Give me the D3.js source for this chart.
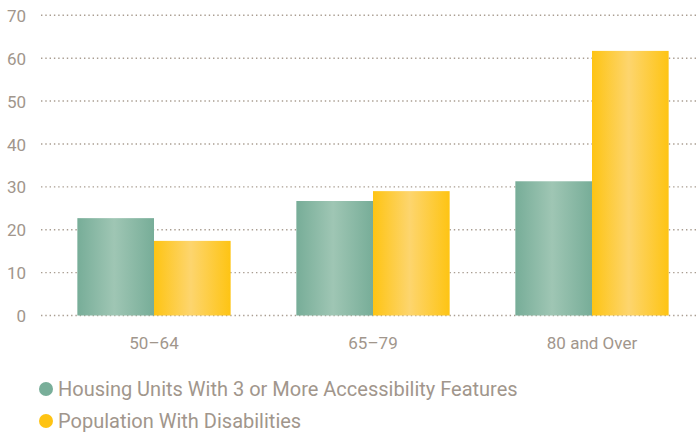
<!DOCTYPE html>
<html><head><meta charset="utf-8">
<script src="https://cdn.jsdelivr.net/npm/d3@7"></script>
<style>body{margin:0;background:#fff}svg{display:block}</style>
</head><body>
<svg id="c" width="697" height="433"></svg>
<script>
const categories = ["50–64", "65–79", "80 and Over"];
const seriesNames = ["Housing Units With 3 or More Accessibility Features", "Population With Disabilities"];
const housing = [22.7, 26.7, 31.3];
const disabilities = [17.4, 29.0, 61.7];
const yTicks = [0, 10, 20, 30, 40, 50, 60, 70];

const svg = d3.select("#c");
const textColor = "#a1968c";
const font = "Roboto, 'DejaVu Sans', sans-serif";

const y = d3.scaleLinear().domain([0, 70]).range([315.5, 15.3]);
const x0 = d3.scaleBand().domain(categories).range([44.5, 701.5]).paddingInner(0.3).paddingOuter(0.15);
const x1 = d3.scaleBand().domain([0, 1]).range([0, x0.bandwidth()]);

const defs = svg.append("defs");
function grad(id, edge, mid) {
  const g = defs.append("linearGradient").attr("id", id).attr("x1", "0%").attr("x2", "100%").attr("y1", "0%").attr("y2", "0%");
  g.append("stop").attr("offset", "0%").attr("stop-color", edge);
  g.append("stop").attr("offset", "48%").attr("stop-color", mid);
  g.append("stop").attr("offset", "100%").attr("stop-color", edge);
}
grad("gGreen", "#77ad98", "#9fc6b4");
grad("gYellow", "#fec413", "#fdd56e");

// grid
const yAxis = d3.axisLeft(y).tickValues(yTicks).tickSize(0).tickPadding(0);
const ga = svg.append("g").attr("transform", "translate(26,0)").call(yAxis);
ga.select(".domain").remove();
ga.selectAll("text").attr("fill", textColor).style("font-family", font).style("font-size", "17px").attr("dy", "0.36em");

svg.append("g").selectAll("line").data(yTicks).join("line")
  .attr("x1", 41).attr("x2", 697)
  .attr("y1", d => y(d)).attr("y2", d => y(d))
  .attr("stroke", "#a99d91").attr("stroke-width", 1.4).attr("stroke-dasharray", "1.4 2.9");

const series = [housing, disabilities];
const fills = ["url(#gGreen)", "url(#gYellow)"];
const groups = svg.append("g").selectAll("g").data(categories).join("g")
  .attr("transform", d => `translate(${x0(d)},0)`);
groups.selectAll("rect").data((d, i) => series.map((s, k) => ({k, v: s[i]}))).join("rect")
  .attr("x", d => x1(d.k)).attr("width", x1.bandwidth())
  .attr("y", d => y(d.v)).attr("height", d => y(0) - y(d.v))
  .attr("fill", d => fills[d.k]);

// x labels
const xAxis = d3.axisBottom(x0).tickSize(0).tickPadding(0);
const xa = svg.append("g").attr("transform", "translate(0,349)").call(xAxis);
xa.select(".domain").remove();
xa.selectAll("text").attr("fill", textColor).style("font-family", font).style("font-size", "17px").attr("dy", "0");

// legend
const legendColors = ["#78ae99", "#fec313"];
const lg = svg.append("g").selectAll("g").data(seriesNames).join("g")
  .attr("transform", (d, i) => `translate(46,${389 + i * 32})`);
lg.append("circle").attr("r", 7).attr("fill", (d, i) => legendColors[i]);
lg.append("text").attr("x", 12).attr("dy", "0.36em").text(d => d)
  .attr("fill", textColor).style("font-family", font).style("font-size", "20px");
</script>
</body></html>
